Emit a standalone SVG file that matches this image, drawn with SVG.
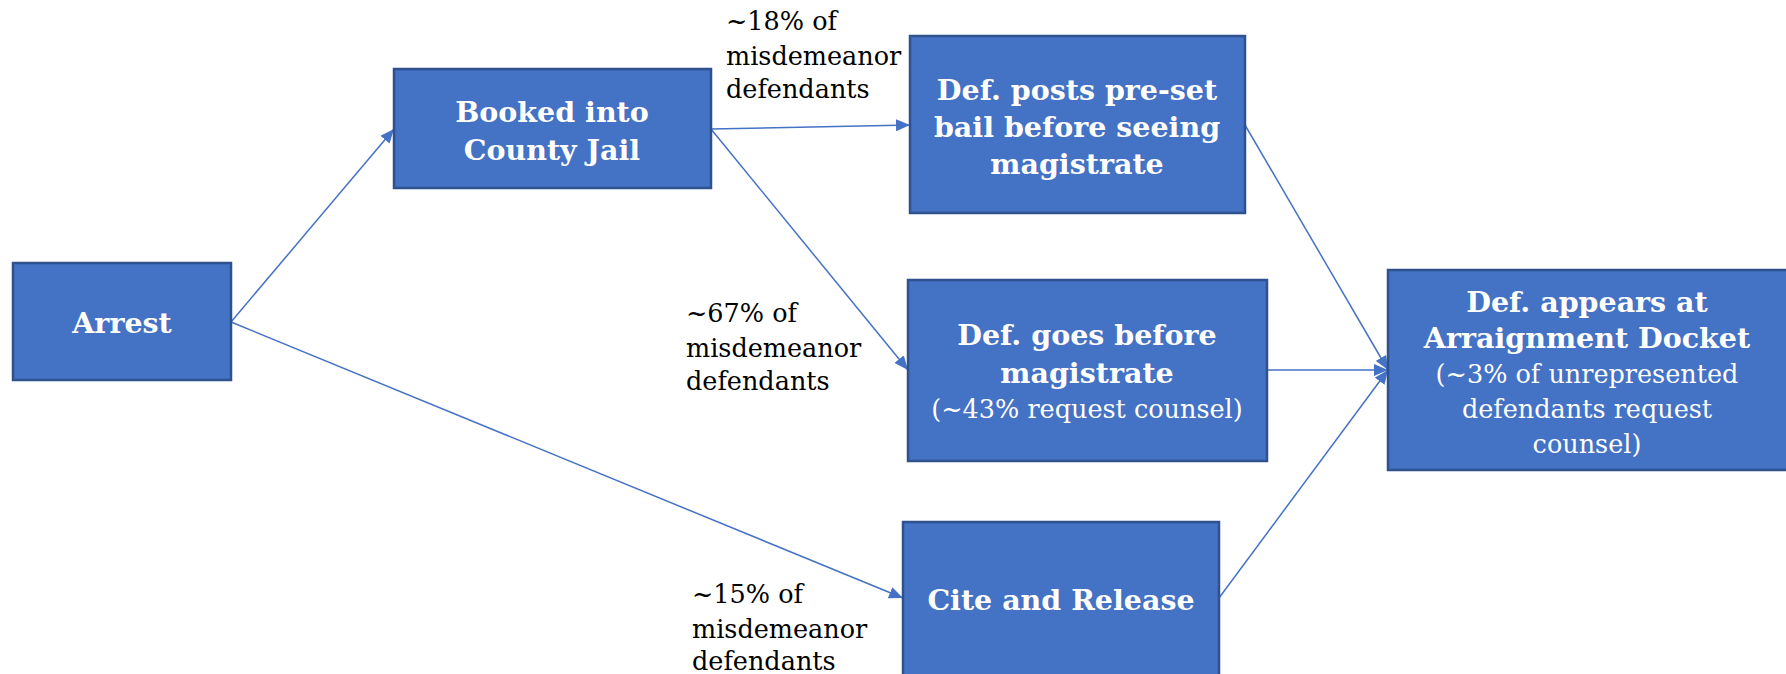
<svg xmlns="http://www.w3.org/2000/svg" width="1786" height="674" viewBox="0 0 1786 674">
<style>
.box{fill:#4472C4;stroke:#2F528F;stroke-width:2.5}
.bt{font-family:"DejaVu Serif","Liberation Serif",serif;font-weight:bold;font-size:28.5px;fill:#fff;text-anchor:middle}
.st{font-family:"DejaVu Serif","Liberation Serif",serif;font-size:25.5px;fill:#fff;text-anchor:middle}
.lbl{font-family:"DejaVu Serif","Liberation Serif",serif;font-size:25.5px;fill:#000}
.con{stroke:#4472C4;stroke-width:1.5;fill:none;marker-end:url(#arr)}
</style>
<defs>
<marker id="arr" viewBox="0 0 14 12" refX="14" refY="6" markerWidth="14" markerHeight="12" markerUnits="userSpaceOnUse" orient="auto">
<path d="M0,0 L14,6 L0,12 z" fill="#4472C4"/>
</marker>
</defs>
<rect width="1786" height="674" fill="#fff"/>
<g id="connectors">
<line class="con" x1="231" y1="322" x2="394" y2="129"/>
<line class="con" x1="231" y1="322" x2="903" y2="598"/>
<line class="con" x1="711" y1="129" x2="910" y2="125"/>
<line class="con" x1="711" y1="129" x2="908" y2="370"/>
<line class="con" x1="1245" y1="125" x2="1388" y2="370"/>
<line class="con" x1="1267" y1="370" x2="1388" y2="370"/>
<line class="con" x1="1219" y1="598" x2="1388" y2="370"/>
</g>
<g id="arrest">
<rect class="box" x="13" y="263" width="218" height="117"/>
<text class="bt" x="122" y="333">Arrest</text>
</g>
<g id="booked">
<rect class="box" x="394" y="69" width="317" height="119"/>
<text class="bt" x="552" y="122">Booked into</text>
<text class="bt" x="552" y="160">County Jail</text>
</g>
<g id="posts">
<rect class="box" x="910" y="36" width="335" height="177"/>
<text class="bt" x="1077" y="100">Def. posts pre-set</text>
<text class="bt" x="1077" y="137">bail before seeing</text>
<text class="bt" x="1077" y="174">magistrate</text>
</g>
<g id="goes">
<rect class="box" x="908" y="280" width="359" height="181"/>
<text class="bt" x="1087" y="345">Def. goes before</text>
<text class="bt" x="1087" y="383">magistrate</text>
<text class="st" x="1087" y="418">(~43% request counsel)</text>
</g>
<g id="cite">
<rect class="box" x="903" y="522" width="316" height="160"/>
<text class="bt" x="1061" y="610">Cite and Release</text>
</g>
<g id="arraign">
<rect class="box" x="1388" y="270" width="400" height="200"/>
<text class="bt" x="1587" y="312">Def. appears at</text>
<text class="bt" x="1587" y="348">Arraignment Docket</text>
<text class="st" x="1587" y="383">(~3% of unrepresented</text>
<text class="st" x="1587" y="418">defendants request</text>
<text class="st" x="1587" y="453">counsel)</text>
</g>
<g id="labels">
<text class="lbl" x="726" y="30">~18% of</text>
<text class="lbl" x="726" y="65">misdemeanor</text>
<text class="lbl" x="726" y="98">defendants</text>
<text class="lbl" x="686" y="322">~67% of</text>
<text class="lbl" x="686" y="357">misdemeanor</text>
<text class="lbl" x="686" y="390">defendants</text>
<text class="lbl" x="692" y="603">~15% of</text>
<text class="lbl" x="692" y="638">misdemeanor</text>
<text class="lbl" x="692" y="670">defendants</text>
</g>
</svg>
